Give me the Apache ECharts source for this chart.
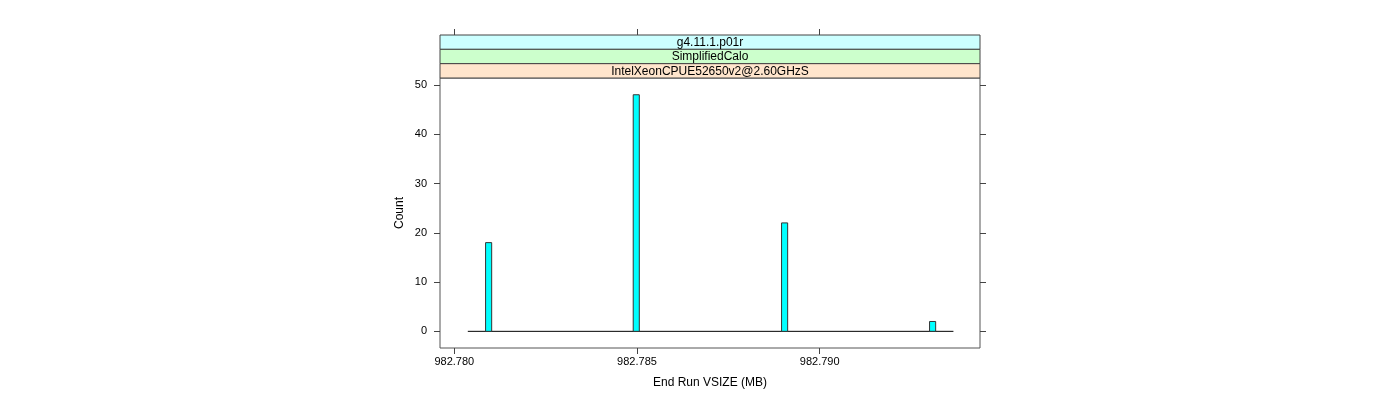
<!DOCTYPE html>
<html>
<head>
<meta charset="utf-8">
<script src="https://cdn.jsdelivr.net/npm/echarts@6/dist/echarts.min.js"></script>
<style>
html,body{margin:0;padding:0;background:#fff;}
#chart{width:1400px;height:400px;}
</style>
</head>
<body>
<div id="chart"></div>
<script>
// ---- data ----
const stripLabels = ["g4.11.1.p01r", "SimplifiedCalo", "IntelXeonCPUE52650v2@2.60GHzS"];
const stripColors = ["#ccffff", "#ccffcc", "#ffe5cc"];
const binCenters = [982.78094, 982.78498, 982.78904, 982.79309];
const counts = [18, 48, 22, 2];
const binWidth = 0.000167;
const histRange = [982.78037, 982.79366];
const xTicks = [982.780, 982.785, 982.790];
const yTicks = [0, 10, 20, 30, 40, 50];
const xLimits = [982.779609, 982.794387];
const yLimits = [-3.38, 51.4];

// ---- layout ----
const L = 440, R = 980, T = 78, B = 348, stripTop = 35;
const stripH = (T - stripTop) / stripLabels.length;
const font = "Liberation Sans, Arial, Helvetica, sans-serif";
const fg = "#000";
const tickColor = "#444";

const chart = echarts.init(document.getElementById('chart'), null, {renderer: 'canvas'});

const graphics = [];
stripLabels.forEach((lab, i) => {
  graphics.push({
    type: 'rect',
    shape: {x: L, y: stripTop + i * stripH, width: R - L, height: stripH},
    style: {fill: stripColors[i], stroke: '#444', lineWidth: 1},
    z: 10
  });
  graphics.push({
    type: 'text',
    x: (L + R) / 2,
    y: stripTop + i * stripH + stripH / 2 + 0.5,
    style: {text: lab, fill: fg, font: '12px ' + font, align: 'center', verticalAlign: 'middle'},
    z: 11
  });
});

const barData = binCenters.map((c, i) => [c - binWidth / 2, c + binWidth / 2, counts[i]]);

chart.setOption({
  animation: false,
  backgroundColor: '#fff',
  grid: {left: L, right: 1400 - R, top: T, bottom: 400 - B, show: true, borderColor: '#555', borderWidth: 1, backgroundColor: 'transparent'},
  graphic: graphics,
  xAxis: [{
    type: 'value', min: xLimits[0], max: xLimits[1], position: 'bottom',
    splitLine: {show: false}, axisLine: {show: false, onZero: false},
    axisTick: {show: true, length: 6, customValues: xTicks, lineStyle: {color: tickColor}},
    axisLabel: {customValues: xTicks, formatter: v => v.toFixed(3), color: fg, fontSize: 11, fontFamily: font, margin: 8},
    name: 'End Run VSIZE (MB)', nameLocation: 'middle', nameGap: 29,
    nameTextStyle: {color: fg, fontSize: 12, fontFamily: font}
  }, {
    type: 'value', min: xLimits[0], max: xLimits[1], position: 'top', offset: T - stripTop,
    splitLine: {show: false}, axisLine: {show: false, onZero: false},
    axisTick: {show: true, length: 6, customValues: xTicks, lineStyle: {color: tickColor}},
    axisLabel: {show: false}
  }],
  yAxis: [{
    type: 'value', min: yLimits[0], max: yLimits[1], position: 'left',
    splitLine: {show: false}, axisLine: {show: false, onZero: false},
    axisTick: {show: true, length: 6, customValues: yTicks, lineStyle: {color: tickColor}},
    axisLabel: {customValues: yTicks, color: fg, fontSize: 11, fontFamily: font, margin: 13},
    name: 'Count', nameLocation: 'middle', nameGap: 34,
    nameTextStyle: {color: fg, fontSize: 12, fontFamily: font}
  }, {
    type: 'value', min: yLimits[0], max: yLimits[1], position: 'right',
    splitLine: {show: false}, axisLine: {show: false, onZero: false},
    axisTick: {show: true, length: 6, customValues: yTicks, lineStyle: {color: tickColor}},
    axisLabel: {show: false}
  }],
  series: [{
    type: 'line',
    data: [[histRange[0], 0], [histRange[1], 0]],
    symbol: 'none',
    lineStyle: {color: '#000', width: 1},
    z: 2
  }, {
    type: 'custom',
    data: barData,
    z: 3,
    renderItem: function (params, api) {
      const p0 = api.coord([api.value(0), api.value(2)]);
      const p1 = api.coord([api.value(1), 0]);
      return {
        type: 'rect',
        shape: {x: p0[0], y: p0[1], width: p1[0] - p0[0], height: p1[1] - p0[1]},
        style: {fill: '#00ffff', stroke: '#333', lineWidth: 1}
      };
    }
  }]
});
</script>
</body>
</html>
